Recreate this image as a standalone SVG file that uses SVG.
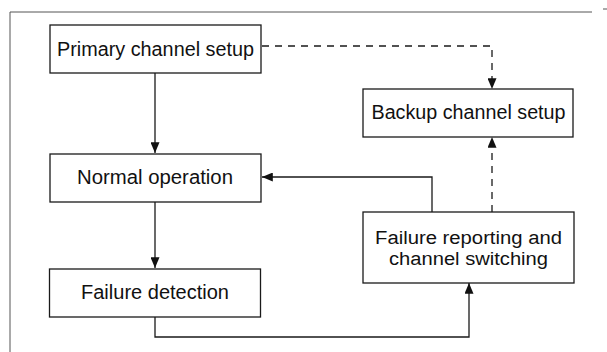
<svg xmlns="http://www.w3.org/2000/svg" width="607" height="352" viewBox="0 0 607 352">
<style>
.box{fill:#fff;stroke:#1a1a1a;stroke-width:1.3}
.t{font-family:"Liberation Sans","Open Sans",sans-serif;font-size:19.5px;fill:#111;text-anchor:middle}
.s{font-size:18px}
.c{fill:none;stroke:#1a1a1a;stroke-width:1.3}
.d{fill:none;stroke:#1a1a1a;stroke-width:1.3;stroke-dasharray:7 6}
.frame{fill:none;stroke:#555;stroke-width:1}
</style>
<defs>
<marker id="ahd" viewBox="0 0 12 10" refX="12" refY="5" markerWidth="12" markerHeight="9" markerUnits="userSpaceOnUse" orient="auto">
<path d="M0,0 L12,5 L0,10 z" fill="#111"/>
</marker>
</defs>
<g id="frame">
<path class="frame" d="M10,352 V12 H592"/>
<path class="frame" d="M603,9 H607"/>
</g>
<g id="connectors">
<path class="c" d="M155,73 V153" marker-end="url(#ahd)"/>
<path class="c" d="M155,202 V268" marker-end="url(#ahd)"/>
<path class="c" d="M155,317 V337 H469 V283" marker-end="url(#ahd)"/>
<path class="c" d="M432,212 V177 H262" marker-end="url(#ahd)"/>
<path class="d" d="M262,46 H492 V89" marker-end="url(#ahd)"/>
<path class="d" d="M492,212 V137" marker-end="url(#ahd)"/>
</g>
<g id="primary">
<rect class="box" x="50" y="25" width="211" height="48"/>
<text class="t" x="155.5" y="56" textLength="197" lengthAdjust="spacingAndGlyphs">Primary channel setup</text>
</g>
<g id="normal">
<rect class="box" x="50" y="154" width="211" height="48"/>
<text class="t" x="155" y="184" textLength="156" lengthAdjust="spacingAndGlyphs">Normal operation</text>
</g>
<g id="detection">
<rect class="box" x="49.5" y="269" width="211" height="48"/>
<text class="t" x="155" y="299" textLength="148" lengthAdjust="spacingAndGlyphs">Failure detection</text>
</g>
<g id="backup">
<rect class="box" x="363" y="89" width="210" height="48"/>
<text class="t" x="468.5" y="119" textLength="194" lengthAdjust="spacingAndGlyphs">Backup channel setup</text>
</g>
<g id="reporting">
<rect class="box" x="363" y="212" width="211" height="71"/>
<text class="t s" x="468.5" y="244" textLength="187" lengthAdjust="spacingAndGlyphs">Failure reporting and</text>
<text class="t s" x="468.5" y="265" textLength="159" lengthAdjust="spacingAndGlyphs">channel switching</text>
</g>
</svg>
